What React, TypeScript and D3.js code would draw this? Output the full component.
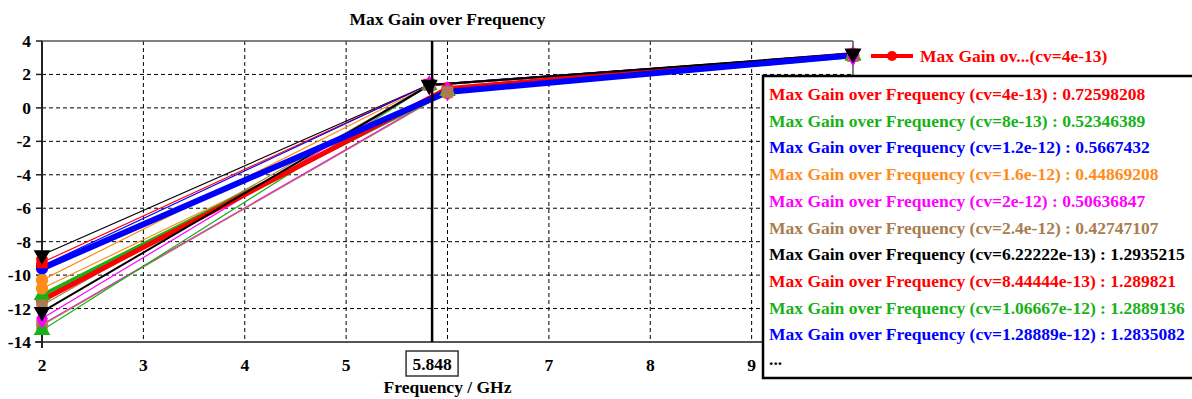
import React from "react";
import * as d3 from "d3";

// frequency samples (GHz) of the two sweep groups
const freqA = [2, 6, 10];
const freqB = [2, 5.82, 10];

const cvLabels = [
  "4e-13", "8e-13", "1.2e-12", "1.6e-12", "2e-12", "2.4e-12",
  "6.22222e-13", "8.44444e-13", "1.06667e-12", "1.28889e-12",
  "1.51111e-12", "1.73333e-12", "1.95556e-12", "2.17778e-12",
];

// Max gain values (dB) at each sample
const gainA1 = [-11.5, 1.15, 3.2];
const gainA2 = [-11.2, 1.0, 3.1];
const gainA3 = [-9.6, 0.95, 3.15];
const gainA4 = [-10.8, 0.85, 3.1];
const gainA5 = [-12.95, 1.0, 3.1];
const gainA6 = [-13.0, 0.95, 3.1];
const gainB1 = [-8.8, 1.4, 3.25];
const gainB2 = [-9.25, 1.4, 3.2];
const gainB3 = [-13.3, 1.35, 3.15];
const gainB4 = [-9.45, 1.4, 3.2];
const gainB5 = [-10.3, 1.35, 3.15];
const gainB6 = [-12.6, 1.35, 3.1];
const gainB7 = [-11.8, 1.35, 3.1];
const gainB8 = [-12.2, 1.35, 3.25];

const cursorFreq = 5.848;
const legendValues = [
  "0.72598208", "0.52346389", "0.5667432", "0.44869208", "0.50636847",
  "0.42747107", "1.2935215", "1.289821", "1.2889136", "1.2835082",
];

const xTicks = [2, 3, 4, 5, 6, 7, 8, 9];
const yTicks = [4, 2, 0, -2, -4, -6, -8, -10, -12, -14];

const RED = "#ff0000";
const GREEN = "#17b217";
const BLUE = "#0000ff";
const ORANGE = "#ff8c1a";
const MAGENTA = "#ff00ff";
const BROWN = "#a87c4f";
const BLACK = "#000000";
const palette = [RED, GREEN, BLUE, ORANGE, MAGENTA, BROWN, BLACK, RED, GREEN, BLUE, ORANGE, MAGENTA, BROWN, BLACK];

type Series = { x: number[]; y: number[]; color: string; width: number; marker: string };

const series: Series[] = [
  { x: freqA, y: gainA4, color: palette[3], width: 1.2, marker: "circle" },
  { x: freqA, y: gainA5, color: palette[4], width: 1.2, marker: "diamond" },
  { x: freqA, y: gainA6, color: palette[5], width: 1.2, marker: "square" },
  { x: freqB, y: gainB1, color: palette[6], width: 1.2, marker: "down" },
  { x: freqB, y: gainB2, color: palette[7], width: 1.2, marker: "square" },
  { x: freqB, y: gainB3, color: palette[8], width: 1.2, marker: "triangle" },
  { x: freqB, y: gainB4, color: palette[9], width: 1.2, marker: "circle" },
  { x: freqB, y: gainB5, color: palette[10], width: 1.2, marker: "circle" },
  { x: freqB, y: gainB6, color: palette[11], width: 1.2, marker: "diamond" },
  { x: freqB, y: gainB7, color: palette[12], width: 1.2, marker: "square" },
  { x: freqA, y: gainA2, color: palette[1], width: 4, marker: "triangle" },
  { x: freqA, y: gainA1, color: palette[0], width: 5, marker: "circle" },
  { x: freqB, y: gainB8, color: palette[13], width: 2, marker: "down" },
  { x: freqA, y: gainA3, color: palette[2], width: 6, marker: "circle" },
];

// markers: thick curves first, thin curves on top
const markerOrder = [13, 11, 10, 6, 0, 1, 2, 5, 7, 4, 9, 8, 3, 12];

const FONT = "'Liberation Serif', 'Times New Roman', serif";

const symbolPath = (m: string, size: number) => {
  const t =
    m === "square" ? d3.symbolSquare :
    m === "diamond" ? d3.symbolDiamond :
    m === "triangle" || m === "down" ? d3.symbolTriangle : d3.symbolCircle;
  return d3.symbol().type(t).size(size)() || "";
};

export default function App() {
  const left = 42, right = 853, top = 41, bottom = 342;
  const x = d3.scaleLinear().domain([2, 10]).range([left, right]);
  const y = d3.scaleLinear().domain([-14, 4]).range([bottom, top]);
  const line = d3.line<[number, number]>().x((d) => x(d[0])).y((d) => y(d[1]));
  const cx = x(cursorFreq);

  return (
    <svg width={1192} height={399} style={{ position: "absolute", left: 0, top: 0, background: "#fff" }}
      fontFamily={FONT} fontWeight="bold">
      <text x={(left + right) / 2} y={25} textAnchor="middle" fontSize={17.5}>Max Gain over Frequency</text>

      {/* grid */}
      {xTicks.slice(1).map((t) => (
        <line key={"gx" + t} x1={x(t)} x2={x(t)} y1={top} y2={bottom} stroke="#000" strokeWidth={1} strokeDasharray="4,3" />
      ))}
      {yTicks.slice(1, -1).map((t) => (
        <line key={"gy" + t} x1={left} x2={right} y1={y(t)} y2={y(t)} stroke="#000" strokeWidth={1} strokeDasharray="4,3" />
      ))}

      {/* frame */}
      <line x1={left} x2={right} y1={top} y2={top} stroke="#555" strokeWidth={1.5} />
      <line x1={right} x2={right} y1={top} y2={bottom} stroke="#555" strokeWidth={1.5} />
      <line x1={left - 7} x2={right} y1={bottom} y2={bottom} stroke="#555" strokeWidth={2} />
      <line x1={left} x2={left} y1={top} y2={bottom + 6} stroke="#222" strokeWidth={2} />
      {yTicks.map((t) => (
        <g key={"yt" + t}>
          <line x1={left - 6} x2={left} y1={y(t)} y2={y(t)} stroke="#222" strokeWidth={1.5} />
          <text x={31} y={y(t) + 6} textAnchor="end" fontSize={17.5}>{t}</text>
        </g>
      ))}
      {/* tick labels hidden behind the cursor label are skipped */}
      {xTicks.filter((t) => Math.abs(x(t) - x(cursorFreq)) > 35).map((t) => (
        <text key={"xt" + t} x={x(t)} y={371} textAnchor="middle" fontSize={17.5}>{t}</text>
      ))}
      <text x={(left + right) / 2} y={393} textAnchor="middle" fontSize={17.5}>Frequency / GHz</text>

      {/* series */}
      {series.map((s, i) => (
        <path key={"l" + i} d={line(s.x.map((v, j) => [v, s.y[j]] as [number, number])) || ""}
          fill="none" stroke={s.color} strokeWidth={s.width} />
      ))}
      {markerOrder.map((i) => {
        const s = series[i];
        return s.x.map((v, j) => (
          <path key={"m" + i + "-" + j} d={symbolPath(s.marker, s.marker === "square" ? 130 : 120)}
            transform={`translate(${x(v)},${y(s.y[j])})${s.marker === "down" ? " rotate(180)" : ""}`}
            fill={s.color} />
        ));
      })}

      {/* cursor */}
      <line x1={cx} x2={cx} y1={top} y2={bottom} stroke="#000" strokeWidth={2.5} />
      <rect x={cx - 26} y={351} width={52} height={25} fill="#fff" stroke="#333" strokeWidth={1.5} />
      <text x={cx} y={370} textAnchor="middle" fontSize={17.5}>{cursorFreq}</text>

      {/* top legend entry */}
      <line x1={871} x2={913} y1={56} y2={56} stroke={RED} strokeWidth={4} />
      <circle cx={892} cy={56} r={5} fill={RED} />
      <text x={920} y={62} fontSize={17.5} fill={RED}>Max Gain ov...(cv={cvLabels[0]})</text>

      {/* cursor value box */}
      <rect x={763} y={76} width={440} height={302} fill="#fff" stroke="#000" strokeWidth={2.5} />
      {legendValues.map((v, i) => (
        <text key={"lv" + i} x={769} y={100 + i * 26.7} fontSize={17.5} fill={palette[i]}>
          Max Gain over Frequency (cv={cvLabels[i]}) : {v}
        </text>
      ))}
      <text x={769} y={100 + legendValues.length * 26.7 - 2} fontSize={17.5} fill="#000">...</text>
    </svg>
  );
}
